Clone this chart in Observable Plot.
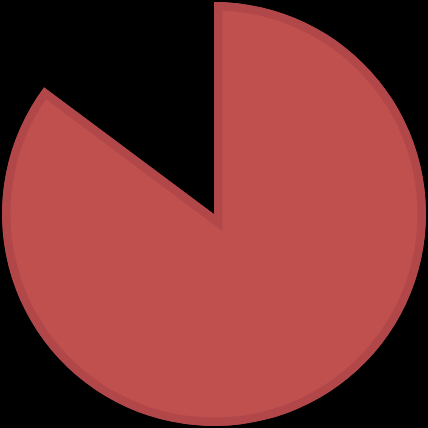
<!DOCTYPE html>
<html>
<head>
<meta charset="utf-8">
<script src="https://cdn.jsdelivr.net/npm/d3@7"></script>
<script src="https://cdn.jsdelivr.net/npm/@observablehq/plot@0.6"></script>
<style>
  html, body { margin: 0; padding: 0; background: #000; }
  #chart svg { display: block; }
</style>
</head>
<body>
<div id="chart"></div>
<script>
const categories = ["A", "B"];
const values = [85.2, 14.8];
const fills = ["#c0504d", "none"];
const strokes = ["#b2474a", "none"];

const data = categories.map((c, i) => ({category: c, value: values[i], fill: fills[i], stroke: strokes[i]}));

const W = 428, H = 428;
const cx = 214, cy = 214, R = 212;

function pieMark(data) {
  return (index, scales, values, dimensions, context) => {
    const pie = d3.pie().value(d => d.value).sort(null);
    const arcs = pie(data);
    const arc = d3.arc().innerRadius(0).outerRadius(R);
    const g = d3.create("svg:g").attr("transform", `translate(${cx},${cy})`);
    arcs.forEach((a, i) => {
      if (a.data.fill === "none") return;
      const id = "clip" + i;
      g.append("clipPath").attr("id", id).append("path").attr("d", arc(a));
      g.append("path").attr("d", arc(a)).attr("fill", a.data.fill)
        .attr("stroke", a.data.stroke).attr("stroke-width", 17)
        .attr("stroke-linejoin", "miter")
        .attr("clip-path", `url(#${id})`);
    });
    return g.node();
  };
}

const chart = Plot.plot({
  width: W,
  height: H,
  margin: 0,
  style: {background: "#000"},
  x: {axis: null},
  y: {axis: null},
  marks: [pieMark(data)]
});
document.getElementById("chart").appendChild(chart);
</script>
</body>
</html>
